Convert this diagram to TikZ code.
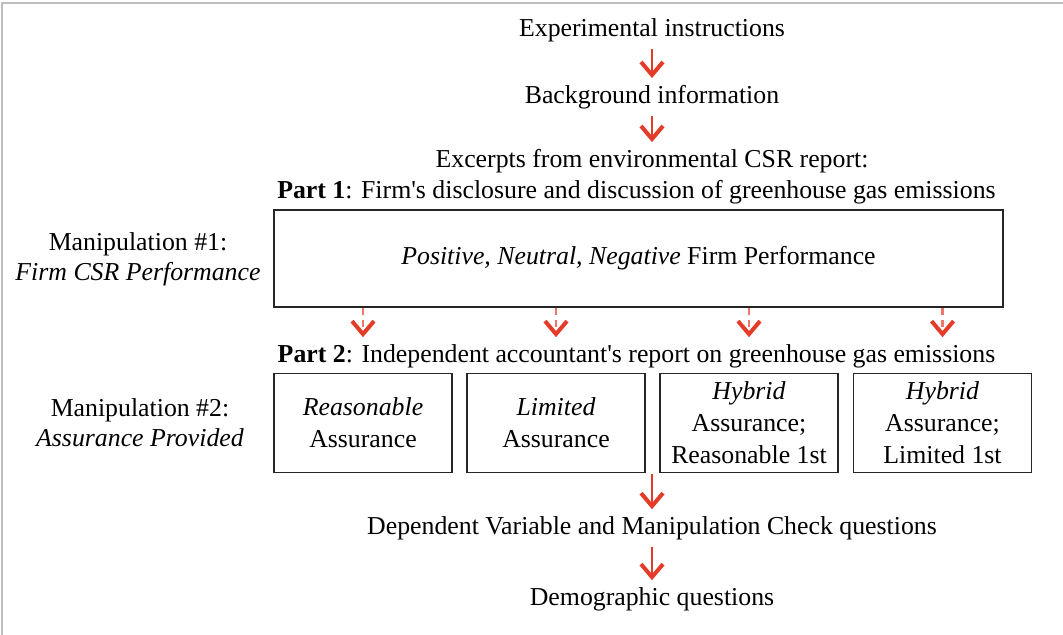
\documentclass[tikz,border=0pt]{standalone}
\usepackage{fontspec}
\setmainfont{Liberation Serif}
\usetikzlibrary{arrows.meta}
\definecolor{arrowred}{RGB}{229,60,42}
\definecolor{framegray}{RGB}{190,190,190}
\newcommand{\figfont}{\fontsize{12.9}{16}\selectfont}
\begin{document}
\begin{tikzpicture}[x=0.5pt,y=-0.5pt,font=\figfont,
    box/.style={draw=black!85,line width=0.9pt,align=center,inner sep=0pt},
    flow/.style={draw=arrowred,line width=1.4pt,-{Straight Barb[length=6.5pt,width=11pt,line width=2pt]}},
    dashflow/.style={draw=arrowred!70,line width=1.3pt,dash pattern=on 3.5pt off 2.5pt,
      -{Straight Barb[length=6.5pt,width=11pt,line width=2pt,color=arrowred]}}]
      \useasboundingbox (0,0) rectangle (1063,635);
      \draw[framegray,line width=0.8pt] (2,635) -- (2,3) -- (1063,3);
      \draw
        (652,30) node (instr){Experimental instructions}
        (652,97) node (backg){Background information}
        (652,161) node (excerpt){Excerpts from environmental CSR report:}
        (636.5,192) node (part1){\textbf{Part 1}: Firm\textquotesingle s disclosure and discussion of greenhouse gas emissions}
        (638.5,258.5) node[box,minimum width=364.5pt,minimum height=48.5pt] (perf)
          {\textit{Positive, Neutral, Negative} Firm Performance}
        (636.5,356) node (part2){\textbf{Part 2}: Independent accountant\textquotesingle s report on greenhouse gas emissions}
        (363,423) node[box,minimum width=89pt,minimum height=49.5pt] (b1){\textit{Reasonable}\\Assurance}
        (556,423) node[box,minimum width=89pt,minimum height=49.5pt] (b2){\textit{Limited}\\Assurance}
        (749,423) node[box,minimum width=89pt,minimum height=49.5pt] (b3){\textit{Hybrid}\\Assurance;\\Reasonable 1st}
        (942.5,423) node[box,minimum width=89pt,minimum height=49.5pt] (b4){\textit{Hybrid}\\Assurance;\\Limited 1st}
        (652,528) node (depvar){Dependent Variable and Manipulation Check questions}
        (652,599) node (demog){Demographic questions}
        (138,259) node[align=center] (manip1){Manipulation \#1:\\[-1pt]\textit{Firm CSR Performance}}
        (140,423) node[align=center] (manip2){Manipulation \#2:\\[-1pt]\textit{Assurance Provided}};
      \coordinate (gap) at (652,474);
      \begin{scope}[flow]
        \draw (instr) to (backg);
        \draw (backg) to (excerpt);
        \draw (gap) to (depvar);
        \draw (depvar) to (demog);
      \end{scope}
      \begin{scope}[dashflow]
        \draw (perf.south -| b1) to (part2.north -| b1);
        \draw (perf.south -| b2) to (part2.north -| b2);
        \draw (perf.south -| b3) to (part2.north -| b3);
        \draw (perf.south -| b4) to (part2.north -| b4);
      \end{scope}
    \end{tikzpicture}
\end{document}
